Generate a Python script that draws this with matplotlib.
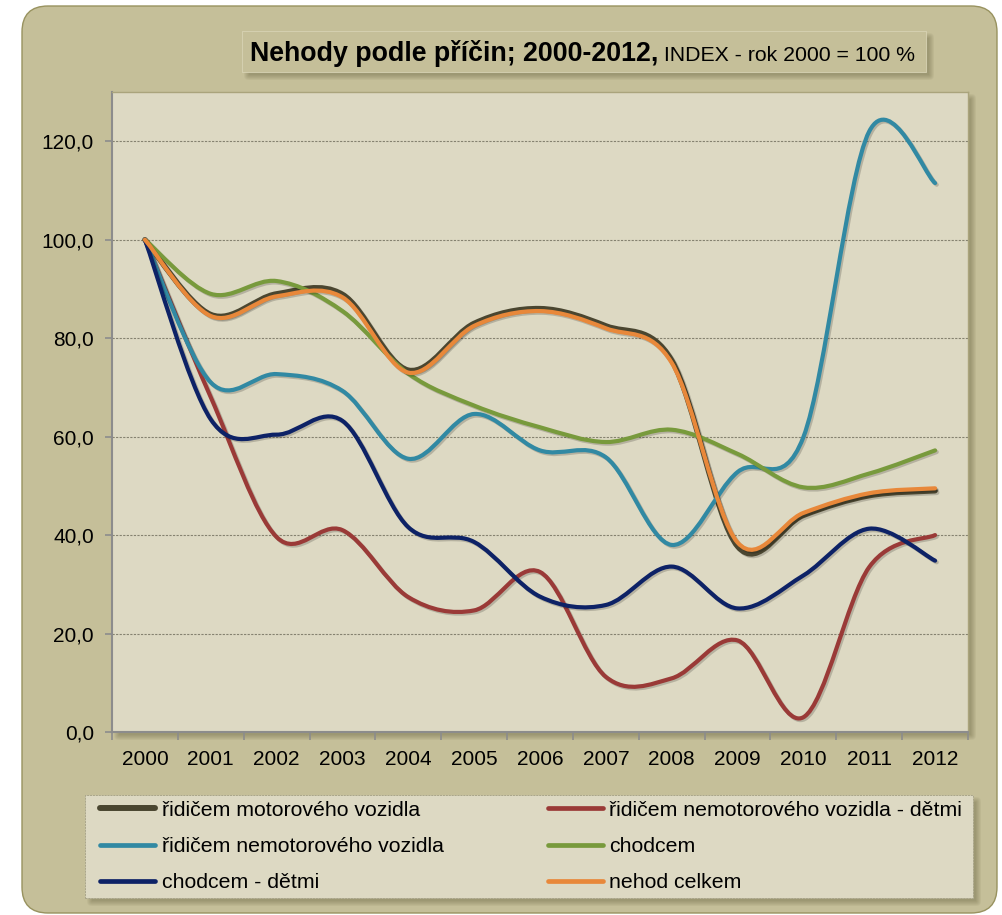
import numpy as np
import matplotlib
matplotlib.use('Agg')
import matplotlib.pyplot as plt
from matplotlib.path import Path
from matplotlib.patches import PathPatch, FancyBboxPatch, Rectangle
from matplotlib.lines import Line2D
from matplotlib.ticker import FuncFormatter
import matplotlib.patheffects as pe

plt.rcParams['font.family'] = ['Liberation Sans', 'DejaVu Sans']

# data (index, year 2000 = 100)
years = ['2000', '2001', '2002', '2003', '2004', '2005', '2006',
         '2007', '2008', '2009', '2010', '2011', '2012']
motor = [100, 84.8, 89, 88.9, 73.5, 83, 86, 82.5, 75.5, 37.7, 44, 48, 49]
nemotor_deti = [100, 68, 39.6, 41, 27.4, 24.7, 32.5, 11.2, 10.9, 18.6, 3.0, 33.5, 40]
nemotor = [100, 71, 72.7, 69.3, 55.5, 64.6, 57.2, 55.8, 38, 52.8, 59.9, 122, 111.5]
chodci = [100, 89, 91.6, 85.5, 72.8, 66.3, 61.9, 58.9, 61.4, 56.5, 49.7, 52.5, 57.2]
chodci_deti = [100, 63.5, 60.4, 63.2, 41.6, 38.6, 27.5, 25.8, 33.6, 25.1, 31.8, 41.3, 34.8]
celkem = [100, 84.5, 88.5, 88.3, 73, 82.5, 85.5, 82, 75, 38.5, 44.5, 48.5, 49.5]

labels = ['řidičem motorového vozidla', 'řidičem nemotorového vozidla - dětmi',
          'řidičem nemotorového vozidla', 'chodcem', 'chodcem - dětmi', 'nehod celkem']
series = [motor, nemotor_deti, nemotor, chodci, chodci_deti, celkem]
colors = ['#4a4630', '#9a3a37', '#3189a3', '#789a3c', '#0d2266', '#e8883a']
widths = [3.9, 3.0, 3.0, 3.0, 3.0, 3.0]

W, H = 1002, 915
BG = '#c5bf99'
PLOT_BG = '#ddd9c3'


def px(x, y):
    # pixel (top-left origin) -> inches for dpi_scale_trans
    return x / 100, (H - y) / 100


def smooth_path(xs, ys):
    # excel-like smoothed line: cubic bezier through every point
    pts = np.column_stack([xs, ys]).astype(float)
    n = len(pts)
    verts = [pts[0]]
    codes = [Path.MOVETO]
    for i in range(n - 1):
        p0 = pts[i - 1] if i > 0 else pts[i]
        p3 = pts[i + 2] if i + 2 < n else pts[i + 1]
        c1 = pts[i] + (pts[i + 1] - p0) / 6
        c2 = pts[i + 1] - (p3 - pts[i]) / 6
        verts += [c1, c2, pts[i + 1]]
        codes += [Path.CURVE4] * 3
    return Path(verts, codes)


def soft_shadow(fig, x0, y0, x1, y1, off=5, steps=6, zorder=-2):
    for k in range(steps):
        a, b = px(x0 + off - k + 2, y1 + off + k - 2)
        r = FancyBboxPatch((a, b), (x1 - x0 + 2 * k - 4) / 100, (y1 - y0 + 2 * k - 4) / 100,
                           boxstyle='round,pad=0,rounding_size=%f' % (k / 100 + 0.001),
                           transform=fig.dpi_scale_trans, facecolor='#5c5735',
                           edgecolor='none', alpha=0.07, zorder=zorder)
        fig.add_artist(r)


fig = plt.figure(figsize=(W / 100, H / 100), dpi=100)
fig.patch.set_facecolor('white')

# outer rounded chart area
a, b = px(22, 913)
fig.add_artist(FancyBboxPatch((a, b), (997 - 22) / 100, (913 - 6) / 100,
                              boxstyle='round,pad=0,rounding_size=0.26',
                              transform=fig.dpi_scale_trans, facecolor=BG,
                              edgecolor='#98925f', linewidth=1.0, zorder=-3))

# shadows for plot area, title box and legend
soft_shadow(fig, 112, 92, 968, 732)
soft_shadow(fig, 242, 31, 926, 72)
soft_shadow(fig, 85, 795, 973, 898)

# title box
a, b = px(242, 72)
fig.add_artist(Rectangle((a, b), (926 - 242) / 100, (72 - 31) / 100,
                         transform=fig.dpi_scale_trans, facecolor=BG,
                         edgecolor='#d8d3b4', linewidth=0.6, zorder=-1))
t1 = fig.text(250 / W, 1 - 61 / H, 'Nehody podle příčin; 2000-2012,', fontsize=19.3,
              fontweight='bold', ha='left', va='baseline', color='black')
fig.canvas.draw()
x_end = t1.get_window_extent().x1
fig.text(x_end / W, 1 - 61 / H, ' INDEX - rok 2000 = 100 %', fontsize=15.3,
         ha='left', va='baseline', color='black')

# legend box
a, b = px(85, 898)
fig.add_artist(Rectangle((a, b), (973 - 85) / 100, (898 - 795) / 100,
                         transform=fig.dpi_scale_trans, facecolor=PLOT_BG,
                         edgecolor='#a9a58a', linewidth=0.7, linestyle=(0, (2, 1)),
                         zorder=-1))

# plot area
ax = fig.add_axes([112 / W, (H - 732) / H, 856 / W, 640 / H])
ax.set_facecolor(PLOT_BG)
x = np.arange(len(years))
for s, c, lw in zip(series, colors, widths):
    patch = PathPatch(smooth_path(x, s), fill=False, edgecolor=c, linewidth=lw,
                      capstyle='round', joinstyle='round',
                      path_effects=[pe.SimpleLineShadow(offset=(1.2, -1.2), alpha=0.18),
                                    pe.Normal()])
    ax.add_patch(patch)

ax.set_xlim(-0.5, len(years) - 0.5)
ax.set_ylim(0, 130)
ax.set_yticks(np.arange(0, 121, 20))
ax.yaxis.set_major_formatter(FuncFormatter(lambda v, p: f'{v:.1f}'.replace('.', ',')))
ax.set_xticks(x)
ax.set_xticklabels(years)
ax.set_xticks(np.arange(-0.5, len(years), 1), minor=True)
ax.tick_params(axis='x', which='major', length=0, pad=13, labelsize=15)
ax.tick_params(axis='x', which='minor', length=6, width=1.2, color='#8c8c8c', direction='out')
ax.tick_params(axis='y', length=5, width=1.2, color='#8c8c8c', pad=8, labelsize=15)
ax.grid(axis='y', color='#858270', linestyle=(0, (2, 1.2)), linewidth=0.8)
ax.set_axisbelow(True)
for side in ['left', 'bottom']:
    ax.spines[side].set_color('#8c8c8c')
    ax.spines[side].set_linewidth(1.5)
for side in ['top', 'right']:
    ax.spines[side].set_color('#aaa47c')
    ax.spines[side].set_linewidth(1.0)

# legend, row-major order as in the original
handles = [Line2D([], [], color=c, linewidth=lw + 0.4, solid_capstyle='round')
           for c, lw in zip(colors, widths)]
order = [0, 2, 4, 1, 3, 5]
leg = fig.legend([handles[i] for i in order], [labels[i] for i in order], ncol=2,
                 loc='center', mode='expand',
                 bbox_to_anchor=(100 / W, 1 - 898 / H, 862 / W, 103 / H),
                 bbox_transform=fig.transFigure, borderaxespad=0, fontsize=15.3,
                 handlelength=2.6, handletextpad=0.3, labelspacing=0.82,
                 borderpad=0, frameon=False)

fig.savefig('out.png', dpi=100, facecolor=fig.get_facecolor())
